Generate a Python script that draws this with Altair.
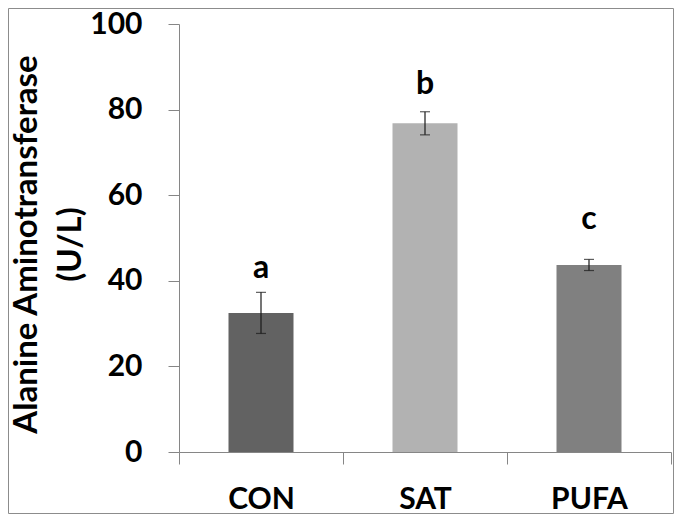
import altair as alt
import pandas as pd

# ---- data ----
groups = ["CON", "SAT", "PUFA"]
means = [32.5, 76.8, 43.7]
errors = [4.8, 2.7, 1.3]
letters = ["a", "b", "c"]
letter_y = [40.6, 83.7, 52.0]
bar_colors = ["#626262", "#b2b2b2", "#808080"]
y_ticks = [0, 20, 40, 60, 80, 100]

df = pd.DataFrame({
    "group": groups,
    "mean": means,
    "lo": [m - e for m, e in zip(means, errors)],
    "hi": [m + e for m, e in zip(means, errors)],
    "letter": letters,
    "ly": letter_y,
    "color": bar_colors,
})

FONT = "Lato"
AXIS_GRAY = "#868686"
W, H = 492, 428
PAD = {"left": 171, "top": 16, "right": 3, "bottom": 62}

x_enc = alt.X(
    "group:N",
    sort=groups,
    scale=alt.Scale(paddingInner=0, paddingOuter=0),
    axis=alt.Axis(
        title=None,
        labelAngle=0,
        labelFont=FONT,
        labelFontSize=30,
        labelFontWeight="bold",
        labelColor="#000000",
        labelBaseline="alphabetic",
        labelPadding=44,
        tickBand="extent",
        tickSize=12,
        tickColor=AXIS_GRAY,
        domainColor=AXIS_GRAY,
        grid=False,
    ),
)

y_scale = alt.Scale(domain=[0, 100], nice=False)

bars = alt.Chart(df).mark_bar(size=65).encode(
    x=x_enc,
    y=alt.Y(
        "mean:Q",
        scale=y_scale,
        axis=alt.Axis(
            values=y_ticks,
            title=["Alanine Aminotransferase", "(U/L)"],
            titleFont=FONT,
            titleFontSize=33,
            titleFontWeight="bold",
            titleColor="#000000",
            titleLineHeight=44,
            titleBaseline="alphabetic",
            titleX=-143,
            titleY=H / 2 + 6,
            labelFont=FONT,
            labelFontSize=30,
            labelFontWeight="bold",
            labelColor="#000000",
            labelPadding=26,
            tickSize=11,
            tickColor=AXIS_GRAY,
            domainColor=AXIS_GRAY,
            grid=False,
        ),
    ),
    color=alt.Color("color:N", scale=None),
)

err_rule = alt.Chart(df).mark_rule(color="#1a1a1a", strokeWidth=1.2).encode(
    x=alt.X("group:N", sort=groups),
    y=alt.Y("lo:Q", scale=y_scale),
    y2="hi:Q",
)

cap_lo = alt.Chart(df).mark_tick(color="#1a1a1a", size=10, thickness=1.2).encode(
    x=alt.X("group:N", sort=groups),
    y=alt.Y("lo:Q", scale=y_scale),
)
cap_hi = alt.Chart(df).mark_tick(color="#1a1a1a", size=10, thickness=1.2).encode(
    x=alt.X("group:N", sort=groups),
    y=alt.Y("hi:Q", scale=y_scale),
)

labels = alt.Chart(df).mark_text(
    font=FONT, fontSize=32, fontWeight="bold", color="#000000", baseline="alphabetic"
).encode(
    x=alt.X("group:N", sort=groups),
    y=alt.Y("ly:Q", scale=y_scale),
    text="letter:N",
)

frame = alt.Chart(pd.DataFrame({"k": [0]})).mark_rect(
    fill="transparent", stroke="#8c8c8c", strokeWidth=1
).encode(
    x=alt.value(-PAD["left"] + 0.5),
    x2=alt.value(W + PAD["right"] - 0.5),
    y=alt.value(-PAD["top"] + 0.5),
    y2=alt.value(H + PAD["bottom"] - 0.5),
)

chart = alt.layer(frame, bars, err_rule, cap_lo, cap_hi, labels).properties(
    width=W,
    height=H,
    autosize=alt.AutoSizeParams(type="none"),
    padding=PAD,
    background="#ffffff",
).configure_view(stroke="transparent")

chart.save("out.html", embed_options={"renderer": "svg", "actions": False})
